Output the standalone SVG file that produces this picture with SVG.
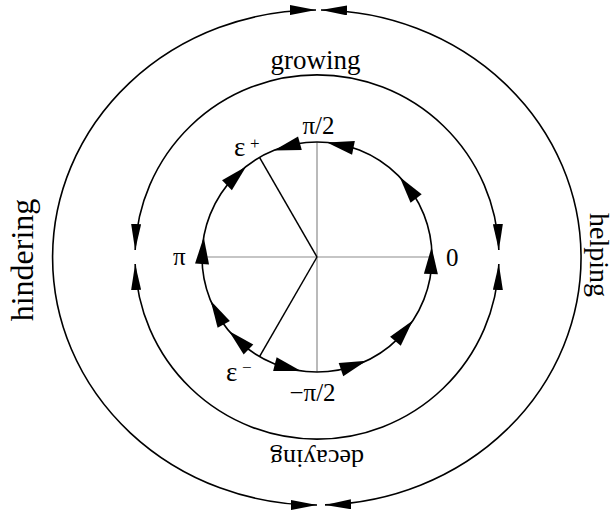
<svg xmlns="http://www.w3.org/2000/svg" xmlns:xlink="http://www.w3.org/1999/xlink" width="616" height="517" viewBox="0 0 616 517">
  <style>
    .c { fill: none; stroke: #000; stroke-width: 1.6; }
    .ax { stroke: #8c8c8c; stroke-width: 1.2; }
    .rad { stroke: #000; stroke-width: 1.5; }
    .t { font-family: "Liberation Serif", "Times New Roman", serif; fill: #000; }
    .arr { fill: #000; }
  </style>
  <defs>
    <marker id="ah" markerUnits="userSpaceOnUse" markerWidth="26" markerHeight="10" viewBox="0 0 26 10" refX="26" refY="5" orient="auto-start-reverse">
      <path d="M0,0 L26,5 L0,10 Z" fill="#000"/>
    </marker>
    <path id="tri" d="M0,0 L-27,-7 L-27,7 Z"/>
  </defs>

  <rect width="616" height="517" fill="#fff"/>

  <g id="connectors">
    <g id="outer">
      <path class="c" d="M321,10.03 A264,247.5 0 0 1 325,504.89" marker-start="url(#ah)" marker-end="url(#ah)"/>
      <path class="c" d="M316,10 A264,247.5 0 0 0 317,505" marker-start="url(#ah)" marker-end="url(#ah)"/>
    </g>
    <g id="middle">
      <path class="c" d="M135.13,250 A182,182 0 0 1 498.87,250" marker-start="url(#ah)" marker-end="url(#ah)"/>
      <path class="c" d="M135.13,264 A182,182 0 0 0 498.87,264" marker-start="url(#ah)" marker-end="url(#ah)"/>
    </g>
    <g id="inner">
      <line class="ax" x1="202" y1="257" x2="432" y2="257"/>
      <line class="ax" x1="317" y1="142" x2="317" y2="372"/>
      <line class="rad" x1="317" y1="257" x2="259.5" y2="157.4"/>
      <line class="rad" x1="317" y1="257" x2="259.5" y2="356.6"/>
      <circle class="c" cx="317" cy="257" r="115"/>
      <g class="arr">
        <use xlink:href="#tri" transform="translate(273.9,150.4) rotate(164.5)"/>
        <use xlink:href="#tri" transform="translate(327,142.4) rotate(191.5)"/>
        <use xlink:href="#tri" transform="translate(399.7,177.1) rotate(-127.5)"/>
        <use xlink:href="#tri" transform="translate(431.6,247) rotate(-88.5)"/>
        <use xlink:href="#tri" transform="translate(412.8,320.6) rotate(-49.9)"/>
        <use xlink:href="#tri" transform="translate(366.5,360.8) rotate(-19)"/>
        <use xlink:href="#tri" transform="translate(301,370.9) rotate(14.5)"/>
        <use xlink:href="#tri" transform="translate(228.9,330.9) rotate(223.5)"/>
        <use xlink:href="#tri" transform="translate(210.7,300.8) rotate(241.1)"/>
        <use xlink:href="#tri" transform="translate(203.7,237) rotate(-86.5)"/>
        <use xlink:href="#tri" transform="translate(246.2,166.4) rotate(-44.5)"/>
      </g>
    </g>
  </g>

  <g id="labels">
    <text id="growing" class="t" x="315.5" y="69" font-size="27" text-anchor="middle">growing</text>
    <text id="decaying" class="t" font-size="26" text-anchor="middle" transform="translate(317,450) rotate(180)">decaying</text>
    <text id="hindering" class="t" font-size="32" text-anchor="middle" transform="translate(33,260) rotate(-90)">hindering</text>
    <text id="helping" class="t" font-size="28" text-anchor="middle" transform="translate(590,255) rotate(90)">helping</text>
    <text class="t" x="318.5" y="134" font-size="25" text-anchor="middle">π/2</text>
    <text class="t" x="446" y="266" font-size="25">0</text>
    <text class="t" x="173" y="265" font-size="25">π</text>
    <text class="t" x="312.5" y="401" font-size="25" text-anchor="middle">−π/2</text>
    <text class="t" x="234" y="156" font-size="27">ε</text>
    <text class="t" x="250" y="149" font-size="17">+</text>
    <text class="t" x="226" y="381" font-size="27">ε</text>
    <text class="t" x="242" y="373" font-size="17">−</text>
  </g>
</svg>
